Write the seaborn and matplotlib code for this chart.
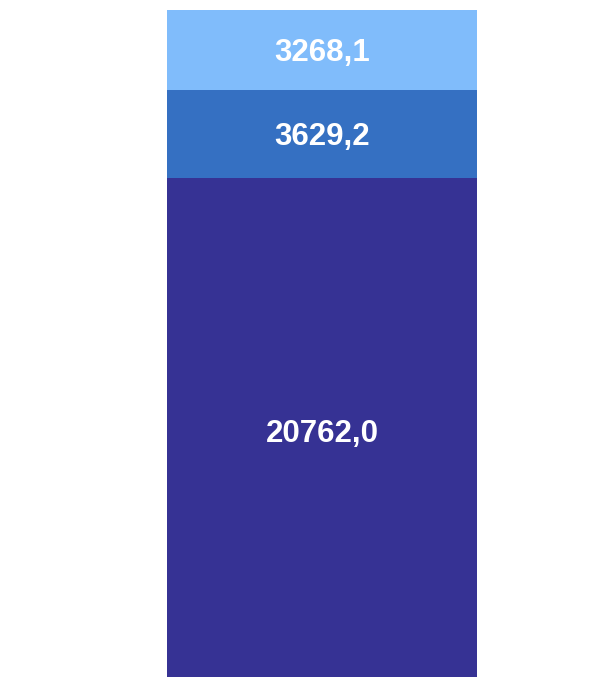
import matplotlib
matplotlib.use("Agg")
import matplotlib.pyplot as plt
import seaborn as sns
import numpy as np
import pandas as pd

# data: one stacked bar, bottom -> top
segments = ["bottom", "middle", "top"]
values = [20762.0, 3629.2, 3268.1]
labels = ["20762,0", "3629,2", "3268,1"]
colors = ["#363294", "#3570C2", "#80BCFB"]

sns.set_theme(style="white")
plt.rcParams['font.family'] = ['Liberation Sans', 'DejaVu Sans']

fig = plt.figure(figsize=(6.13, 6.77), dpi=100)
# bar fills the axes; bottom edge sits a little below the figure
ax = fig.add_axes([167 / 613, -6 / 677, 310 / 613, 673 / 677])

cum = np.cumsum(values)
# draw cumulative totals from largest to smallest so each one overlays the last
for i in range(len(values) - 1, -1, -1):
    df = pd.DataFrame({"cat": ["a"], "val": [cum[i]]})
    sns.barplot(data=df, x="cat", y="val", color=colors[i], width=1.0,
                saturation=1, ax=ax, edgecolor="none", linewidth=0)

for i, lab in enumerate(labels):
    mid = cum[i] - values[i] / 2
    ax.annotate(lab, (0, mid), xytext=(0, -2.5), textcoords="offset points",
                ha="center", va="center", color="white",
                fontsize=22.5, fontweight="bold")

ax.set_xlim(-0.5, 0.5)
ax.set_ylim(0, cum[-1])
ax.axis("off")

fig.savefig("out.png", dpi=100)
